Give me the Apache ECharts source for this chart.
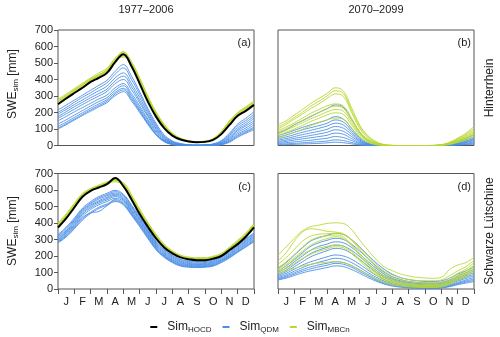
<!DOCTYPE html>
<html>
<head>
<meta charset="utf-8">
<script src="https://cdn.jsdelivr.net/npm/echarts@6/dist/echarts.min.js"></script>
<style>
  html, body { margin: 0; padding: 0; background: #fff; }
  #chart { width: 500px; height: 337px; }
</style>
</head>
<body>
<div id="chart"></div>
<script>
// x positions in months (start of Jan = 0, every half month)
const halfMonths = [0,0.5,1,1.5,2,2.5,3,3.5,4,4.5,5,5.5,6,6.5,7,7.5,8,8.5,9,9.5,10,10.5,11,11.5,12];
const months = ['J','F','M','A','M','J','J','A','S','O','N','D'];
const yTicks = [0,100,200,300,400,500,600,700];

// (a) Hinterrhein 1977-2006
const hocdA = [250,285,318,350,385,410,440,505,553,480,375,266,175,105,60,36,24,20,22,34,69,125,180,210,246];
const mbcnA = [
  [275,305,340,372,405,430,460,525,570,500,400,290,195,125,72,42,28,22,25,40,82,145,195,228,262],
  [265,298,332,365,398,425,455,518,562,492,392,282,188,118,68,40,26,20,23,37,78,138,190,222,255],
  [255,292,325,358,392,420,450,512,548,485,386,278,186,116,66,38,25,19,22,36,75,135,185,218,250],
  [280,312,345,378,410,440,468,530,565,508,410,300,205,130,76,45,30,24,27,43,86,150,200,235,270],
  [260,295,328,362,395,422,452,515,540,488,395,288,195,122,70,41,27,21,24,38,80,140,188,220,252],
  [270,300,336,368,402,428,458,522,535,496,404,296,200,127,74,43,29,23,26,41,84,148,198,230,265]
];
const qdmA = [
  [215,245,275,305,335,365,395,450,490,420,325,225,135,65,28,12,5,3,4,10,30,75,130,165,205],
  [200,230,262,292,320,350,380,432,470,400,310,212,125,58,24,10,4,2,3,8,26,68,120,152,190],
  [190,218,248,276,305,332,360,410,440,375,290,198,115,52,20,8,3,2,3,7,22,60,108,140,178],
  [175,205,235,262,290,315,342,392,420,356,272,185,105,46,17,6,2,1,2,5,18,52,98,128,165],
  [165,192,220,248,275,300,328,375,400,338,258,175,98,42,15,5,2,1,2,4,15,46,90,118,150],
  [150,176,204,230,256,282,306,350,375,315,240,160,88,36,12,4,1,0,1,3,12,40,80,106,138],
  [130,156,184,212,240,266,290,335,362,302,228,150,80,32,10,3,1,0,1,2,10,34,70,95,125],
  [115,142,170,198,226,252,278,322,347,290,216,140,72,28,8,2,0,0,0,2,8,28,62,86,112],
  [105,132,160,188,216,242,268,312,337,280,208,134,68,25,7,2,0,0,0,1,6,24,56,80,104],
  [100,126,154,182,208,234,260,302,326,270,200,128,64,23,6,1,0,0,0,1,5,20,50,74,96]
];

// (b) Hinterrhein 2070-2099
const mbcnB = [
  [125,150,185,218,255,285,315,350,330,230,125,60,24,6,1,0,0,0,0,1,5,20,45,75,115],
  [110,138,170,202,238,268,300,332,315,215,115,55,20,5,1,0,0,0,0,1,4,18,40,68,105],
  [100,128,160,190,224,252,285,312,298,200,105,48,17,4,0,0,0,0,0,0,4,16,36,62,95],
  [90,112,138,165,195,218,240,252,240,165,85,38,13,3,0,0,0,0,0,0,3,14,32,56,85],
  [80,102,128,152,178,200,224,238,226,155,80,34,11,2,0,0,0,0,0,0,3,12,28,50,78],
  [70,92,115,138,162,182,204,218,208,140,70,30,9,2,0,0,0,0,0,0,2,10,25,45,70],
  [60,80,100,122,145,165,185,198,188,125,62,26,7,1,0,0,0,0,0,0,2,8,22,40,62],
  [45,62,80,98,120,138,155,166,158,105,52,20,5,1,0,0,0,0,0,0,1,6,18,32,50]
];
const qdmB = [
  [75,95,125,150,175,200,222,246,232,160,80,30,8,1,0,0,0,0,0,0,2,10,28,45,65],
  [60,75,92,110,125,140,155,175,160,105,48,15,3,0,0,0,0,0,0,0,1,8,22,36,52],
  [50,64,80,95,108,120,135,155,142,92,40,12,2,0,0,0,0,0,0,0,1,6,18,30,45],
  [40,52,66,80,92,104,118,135,124,80,34,9,1,0,0,0,0,0,0,0,1,5,15,26,40],
  [32,42,54,66,76,86,98,115,105,68,28,7,1,0,0,0,0,0,0,0,0,4,12,22,34],
  [24,33,43,52,61,70,80,95,86,55,22,5,0,0,0,0,0,0,0,0,0,3,10,18,28],
  [18,25,33,40,47,54,62,75,68,42,16,3,0,0,0,0,0,0,0,0,0,2,8,14,22],
  [12,17,22,27,32,38,44,54,48,30,11,2,0,0,0,0,0,0,0,0,0,2,6,10,16],
  [7,10,13,16,20,23,27,34,30,18,6,1,0,0,0,0,0,0,0,0,0,1,4,7,11],
  [4,5,7,9,11,13,16,20,17,10,3,0,0,0,0,0,0,0,0,0,0,1,3,5,8]
];

// (c) Schwarze Lütschine 1977-2006
const hocdC = [373,428,494,559,595,615,635,672,623,543,454,377,307,252,216,192,180,175,175,184,200,236,272,317,373];
const mbcnC = [
  [395,450,515,575,605,625,645,665,640,565,478,400,328,268,228,202,190,186,186,195,212,250,290,335,392],
  [388,442,508,570,600,620,640,660,632,558,470,392,320,262,222,197,186,182,182,191,208,245,284,328,385],
  [400,455,520,580,610,630,650,655,645,572,485,405,332,272,232,206,194,190,190,199,216,255,296,340,398],
  [382,438,502,565,598,618,638,650,628,552,465,388,316,258,220,195,184,180,180,189,205,242,280,325,380],
  [392,446,512,572,604,624,644,662,636,562,474,396,324,265,225,200,188,184,184,193,210,248,288,332,388],
  [385,440,505,568,600,622,642,658,630,555,468,390,318,260,224,198,187,183,183,192,208,246,286,330,386]
];
const qdmC = [
  [330,375,430,490,530,560,580,598,575,510,440,365,290,240,205,180,170,168,170,180,202,230,272,305,340],
  [322,368,422,482,522,552,572,590,568,502,432,358,284,235,200,176,166,164,166,176,198,226,266,300,334],
  [315,360,415,475,515,545,565,582,560,495,425,350,278,228,194,170,160,158,160,170,192,220,260,294,328],
  [310,352,408,468,508,535,556,575,552,488,418,344,272,222,188,165,155,153,155,165,186,214,254,288,320],
  [302,345,400,460,500,528,548,568,545,480,410,338,266,216,182,160,150,148,150,160,180,208,248,282,314],
  [298,340,392,452,492,520,540,560,538,472,402,330,260,210,176,155,146,144,146,155,176,204,242,276,308],
  [292,332,385,442,482,510,530,550,530,465,396,324,254,205,172,150,142,140,142,150,172,200,236,270,300],
  [288,326,378,432,462,470,505,542,522,458,390,318,248,200,168,146,138,136,138,146,168,196,230,264,294],
  [284,320,370,425,465,495,515,535,515,452,384,312,243,196,164,142,135,133,135,142,164,192,226,258,290],
  [280,315,365,418,458,488,508,530,510,446,378,306,238,192,160,139,132,130,132,139,160,188,222,254,286]
];

// (d) Schwarze Lütschine 2070-2099
const mbcnD = [
  [206,256,307,353,377,387,397,401,397,361,296,236,180,135,111,91,79,71,67,65,71,118,145,160,192],
  [170,220,290,345,365,360,350,345,335,300,250,200,150,110,85,68,58,52,50,50,55,80,110,135,175],
  [150,190,240,290,320,332,335,337,330,295,240,185,135,95,70,55,45,40,38,38,42,65,95,120,160],
  [130,165,210,255,295,315,322,327,315,270,215,160,112,78,55,42,34,30,28,28,32,52,82,108,145],
  [120,150,190,230,265,290,305,317,305,262,205,150,102,68,48,36,28,24,22,22,26,45,75,100,135],
  [110,140,175,210,235,248,258,266,260,225,180,135,95,62,42,30,23,20,18,18,22,40,68,92,125],
  [100,125,155,185,210,228,242,256,250,215,170,125,85,55,36,25,18,15,14,14,18,35,60,85,115],
  [95,110,125,140,150,158,162,165,160,140,115,88,62,40,26,18,13,10,9,9,12,28,52,75,105]
];
const qdmD = [
  [125,160,205,250,290,310,325,337,330,300,255,205,160,120,90,70,57,50,46,45,50,65,90,110,135],
  [110,140,180,220,258,280,295,307,300,272,230,185,140,102,75,58,46,40,37,36,40,55,78,98,120],
  [100,128,165,200,235,258,272,286,280,252,212,168,126,90,65,50,40,34,31,30,34,48,70,88,110],
  [90,115,148,182,215,236,252,266,260,234,196,154,114,80,58,44,34,29,26,25,29,42,62,80,100],
  [82,105,135,165,195,215,232,246,240,215,180,140,102,72,50,37,28,24,21,20,24,36,55,72,90],
  [75,95,120,145,165,180,195,206,200,180,150,115,84,58,40,29,22,18,16,15,18,30,48,64,80],
  [68,86,108,130,148,162,175,186,180,160,132,100,72,48,32,22,16,13,11,10,13,24,40,55,70],
  [62,78,98,118,134,146,156,165,160,142,116,88,62,40,26,17,12,9,8,7,10,20,34,48,60],
  [58,72,90,108,122,134,144,155,150,132,106,80,55,35,22,14,9,7,6,5,8,17,30,42,52],
  [55,66,82,98,110,120,130,140,136,118,95,70,48,30,18,11,7,5,4,4,6,14,26,36,45]
];

const font = 'Liberation Sans';
const blue = '#4a8ee6';
const green = '#b9d832';

const panels = [
  { left: 58, top: 30, bottom: false, yLabels: true, qdm: qdmA, mbcn: mbcnA, hocd: hocdA },
  { left: 278, top: 30, bottom: false, yLabels: false, qdm: qdmB, mbcn: mbcnB, hocd: null },
  { left: 58, top: 173.5, bottom: true, yLabels: true, qdm: qdmC, mbcn: mbcnC, hocd: hocdC },
  { left: 278, top: 173.5, bottom: true, yLabels: false, qdm: qdmD, mbcn: mbcnD, hocd: null }
];

const grid = [], xAxis = [], yAxis = [], series = [];
const pts = vals => vals.map((v, i) => [halfMonths[i], v]);

panels.forEach((p, i) => {
  grid.push({ left: p.left, top: p.top, width: 196, height: 115.5, show: true,
    borderColor: '#555', borderWidth: 1, containLabel: false });
  xAxis.push({ type: 'value', gridIndex: i, position: 'bottom', min: 0, max: 12, interval: 1,
    axisLine: { show: false }, splitLine: { show: false },
    axisLabel: { show: false },
    axisTick: { show: p.bottom, length: 5, lineStyle: { color: '#555' } } });
  xAxis.push({ type: 'category', gridIndex: i, position: 'bottom', data: months, boundaryGap: true,
    axisLine: { show: false }, axisTick: { show: false }, splitLine: { show: false },
    axisLabel: { show: p.bottom, margin: 7, fontFamily: font, fontSize: 11, color: '#222' } });
  yAxis.push({ type: 'value', gridIndex: i, position: 'left', min: 0, max: 700, interval: 100,
    axisLine: { show: false }, splitLine: { show: false },
    axisTick: { show: p.yLabels, length: 4, lineStyle: { color: '#555' } },
    axisLabel: { show: p.yLabels, margin: 5, fontFamily: font, fontSize: 11, color: '#222' } });

  const base = { type: 'line', xAxisIndex: 2 * i, yAxisIndex: i, showSymbol: false,
    smooth: 0.4, silent: true, animation: false };
  p.qdm.forEach(v => series.push(Object.assign({}, base, { name: 'QDM', color: blue,
    data: pts(v), z: 2, lineStyle: { width: 1, color: blue, opacity: 0.9 } })));
  p.mbcn.forEach(v => series.push(Object.assign({}, base, { name: 'MBCn', color: green,
    data: pts(v), z: 3, lineStyle: { width: 1, color: green, opacity: 0.9 } })));
  if (p.hocd) series.push(Object.assign({}, base, { name: 'HOCD', color: '#000',
    data: pts(p.hocd), z: 4, lineStyle: { width: 2, color: '#000' } }));
});

const txt = (x, y, text, extra) => ({ type: 'text', x: x, y: y, silent: true,
  style: Object.assign({ text: text, fontFamily: font, fontSize: 11, fill: '#222',
    textAlign: 'center', textVerticalAlign: 'middle' }, extra || {}) });

const subRich = {
  a: { fontFamily: font, fontSize: 12, fill: '#222' },
  s: { fontFamily: font, fontSize: 8, fill: '#222', padding: [5, 0, 0, 0] }
};

const graphic = [
  txt(146, 10, '1977–2006'),
  txt(376, 10, '2070–2099'),
  txt(251, 43, '(a)', { textAlign: 'right' }),
  txt(471, 43, '(b)', { textAlign: 'right' }),
  txt(251, 187, '(c)', { textAlign: 'right' }),
  txt(471, 187, '(d)', { textAlign: 'right' }),
  Object.assign(txt(490, 88, 'Hinterrhein', { fontSize: 12 }), { rotation: Math.PI / 2 }),
  Object.assign(txt(490, 231, 'Schwarze Lütschine', { fontSize: 12 }), { rotation: Math.PI / 2 }),
  Object.assign(txt(13, 84, '{a|SWE}{s|sim}{a| [mm]}', { rich: subRich }), { rotation: Math.PI / 2 }),
  Object.assign(txt(13, 231, '{a|SWE}{s|sim}{a| [mm]}', { rich: subRich }), { rotation: Math.PI / 2 })
];

const chart = echarts.init(document.getElementById('chart'));
chart.setOption({
  animation: false,
  grid: grid,
  xAxis: xAxis,
  yAxis: yAxis,
  series: series,
  graphic: graphic,
  legend: {
    data: ['HOCD', 'QDM', 'MBCn'],
    left: 'center', top: 316,
    icon: 'rect', itemWidth: 7, itemHeight: 2, itemGap: 11,
    formatter: name => '{a|Sim}{s|' + name + '}',
    textStyle: {
      padding: [0, 0, 0, 5],
      rich: {
        a: { fontFamily: font, fontSize: 12, color: '#222' },
        s: { fontFamily: font, fontSize: 8, color: '#222', padding: [6, 0, 0, 0] }
      }
    }
  }
});
</script>
</body>
</html>
